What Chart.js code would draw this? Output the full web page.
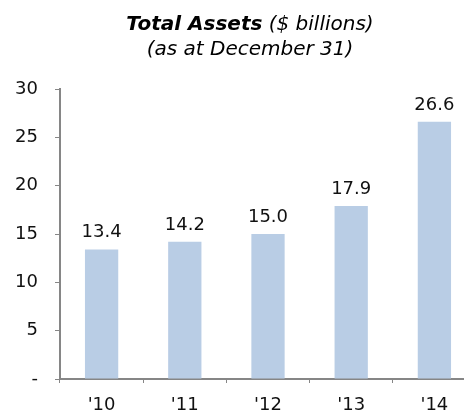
<!DOCTYPE html>
<html>
<head>
<meta charset="utf-8">
<script src="https://cdn.jsdelivr.net/npm/chart.js@4"></script>
<style>
  body { margin: 0; overflow: hidden; background: #fff; }
</style>
</head>
<body>
<canvas id="assets" width="476" height="412"></canvas>
<script>
let YEARS = ["'10", "'11", "'12", "'13", "'14"];
let TOTAL_ASSETS = [13.4, 14.2, 15.0, 17.9, 26.6];
let Y_TICKS = [0, 5, 10, 15, 20, 25, 30];

const FONT = 'DejaVu Sans';
const AXIS_COLOR = '#868686';
const BAR_COLOR = '#b9cde5';

// title with mixed styles, drawn on the canvas
const titlePlugin = {
    id: 'mixedTitle',
    afterDraw(chart) {
        const ctx = chart.ctx;
        const cx = 250;
        ctx.save();
        ctx.fillStyle = '#000';
        ctx.textBaseline = 'alphabetic';
        ctx.textAlign = 'left';
        const boldFont = 'italic bold 20px "' + FONT + '"';
        const italFont = 'italic 20px "' + FONT + '"';
        const a = 'Total Assets';
        const b = ' ($ billions)';
        ctx.font = boldFont;
        const wa = ctx.measureText(a).width;
        ctx.font = italFont;
        const wb = ctx.measureText(b).width;
        let x = cx - (wa + wb) / 2;
        ctx.font = boldFont;
        ctx.fillText(a, x, 30);
        ctx.font = italFont;
        ctx.fillText(b, x + wa, 30);
        ctx.textAlign = 'center';
        ctx.fillText('(as at December 31)', cx, 55);
        ctx.restore();
    }
};

// value labels above the bars
const valueLabels = {
    id: 'valueLabels',
    afterDatasetsDraw(chart) {
        const ctx = chart.ctx;
        const meta = chart.getDatasetMeta(0);
        ctx.save();
        ctx.font = '18px "' + FONT + '"';
        ctx.fillStyle = '#111';
        ctx.textAlign = 'center';
        ctx.textBaseline = 'alphabetic';
        meta.data.forEach((bar, i) => {
            ctx.fillText(TOTAL_ASSETS[i].toFixed(1), bar.x, bar.y - 12);
        });
        ctx.restore();
    }
};

new Chart(document.getElementById('assets'), {
    type: 'bar',
    data: {
        labels: YEARS,
        datasets: [{
            data: TOTAL_ASSETS,
            backgroundColor: BAR_COLOR,
            borderWidth: 0,
            categoryPercentage: 0.4,
            barPercentage: 1
        }]
    },
    options: {
        responsive: false,
        animation: false,
        layout: { padding: { top: 89, left: 0, right: 0, bottom: 0 } },
        plugins: {
            legend: { display: false },
            tooltip: { enabled: false },
            title: { display: false }
        },
        scales: {
            x: {
                offset: true,
                grid: {
                    offset: true,
                    drawOnChartArea: false,
                    drawTicks: true,
                    tickLength: 4,
                    color: AXIS_COLOR
                },
                border: { color: AXIS_COLOR, width: 2 },
                ticks: {
                    color: '#111',
                    font: { family: FONT, size: 18 },
                    padding: 12,
                    maxRotation: 0
                },
                afterFit(scale) { scale.height = 33; }
            },
            y: {
                min: 0,
                max: 30,
                afterBuildTicks(scale) {
                    scale.ticks = Y_TICKS.map(v => ({ value: v }));
                },
                grid: {
                    drawOnChartArea: false,
                    drawTicks: true,
                    tickLength: 5,
                    color: AXIS_COLOR
                },
                border: { color: AXIS_COLOR, width: 2 },
                ticks: {
                    color: '#111',
                    font: { family: FONT, size: 18 },
                    padding: 17,
                    callback: v => v === 0 ? '-' : v
                },
                afterFit(scale) { scale.width = 60; }
            }
        }
    },
    plugins: [titlePlugin, valueLabels]
});
</script>
</body>
</html>
